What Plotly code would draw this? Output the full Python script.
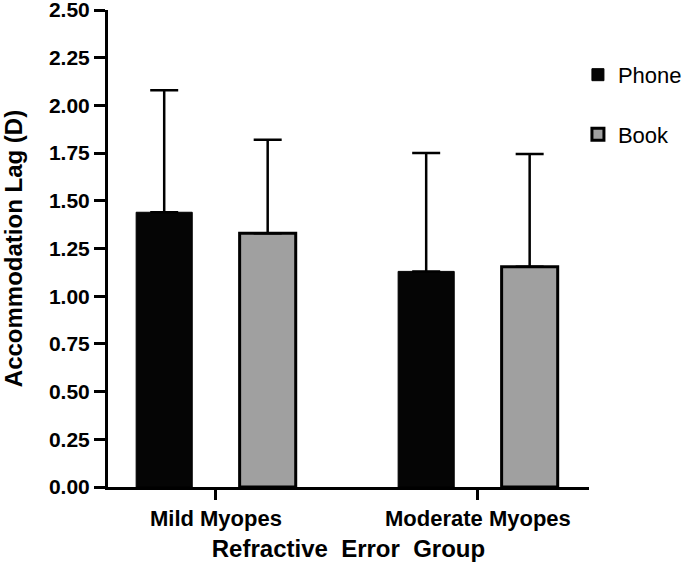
import plotly.graph_objects as go

categories = ["Mild Myopes", "Moderate Myopes"]
phone_mean = [1.44, 1.13]
phone_err = [0.64, 0.62]
book_mean = [1.33, 1.155]
book_err = [0.49, 0.59]
y_ticks = [0.0, 0.25, 0.5, 0.75, 1.0, 1.25, 1.5, 1.75, 2.0, 2.25, 2.5]

FONT = "Liberation Sans, Arial, sans-serif"

fig = go.Figure()
fig.add_trace(go.Bar(
    name="Phone", x=categories, y=phone_mean,
    marker=dict(color="#050505", line=dict(color="#000000", width=1)),
    error_y=dict(type="data", symmetric=False, array=phone_err,
                 arrayminus=[0, 0], color="#000000", thickness=2.5, width=14),
    legendgroup="a",
))
fig.add_trace(go.Bar(
    name="Book", x=categories, y=book_mean,
    marker=dict(color="#a0a0a0", line=dict(color="#000000", width=3)),
    error_y=dict(type="data", symmetric=False, array=book_err,
                 arrayminus=[0, 0], color="#000000", thickness=2.5, width=14),
    legendgroup="b",
))

fig.update_layout(
    width=685, height=569,
    margin=dict(l=108, r=96, t=10, b=82, autoexpand=False),
    plot_bgcolor="white", paper_bgcolor="white",
    barmode="group", bargap=0.21, bargroupgap=0.458,
    font=dict(family=FONT, color="#000000"),
    showlegend=True,
    legend=dict(x=0.977, xanchor="left", y=0.908, yanchor="top",
                font=dict(family=FONT, size=22, color="#000000"),
                tracegroupgap=28, bgcolor="rgba(0,0,0,0)"),
)
fig.update_xaxes(
    type="category", range=[-0.412, 1.424], automargin=False,
    showline=True, linecolor="#000000", linewidth=3,
    ticks="outside", ticklen=10, tickwidth=3, tickcolor="#000000",
    tickfont=dict(family=FONT, size=22, weight="bold"),
    ticklabeloverflow="allow",
    showgrid=False, zeroline=False,
    title=dict(text="Refractive  Error  Group",
               font=dict(family=FONT, size=24, weight="bold"), standoff=10),
)
fig.update_yaxes(
    range=[0, 2.5], tickvals=y_ticks, tickformat=".2f", automargin=False,
    showline=True, linecolor="#000000", linewidth=3,
    ticks="outside", ticklen=11, tickwidth=3, tickcolor="#000000",
    tickfont=dict(family=FONT, size=21, weight="bold"),
    ticklabeloverflow="allow",
    showgrid=False, zeroline=False,
    title=dict(text="Accommodation Lag (D)",
               font=dict(family=FONT, size=24, weight="bold"), standoff=24),
)

fig.write_html("out.html",
               config={"displayModeBar": False},
               post_script="document.body.style.margin='0';document.body.style.overflow='hidden';")
